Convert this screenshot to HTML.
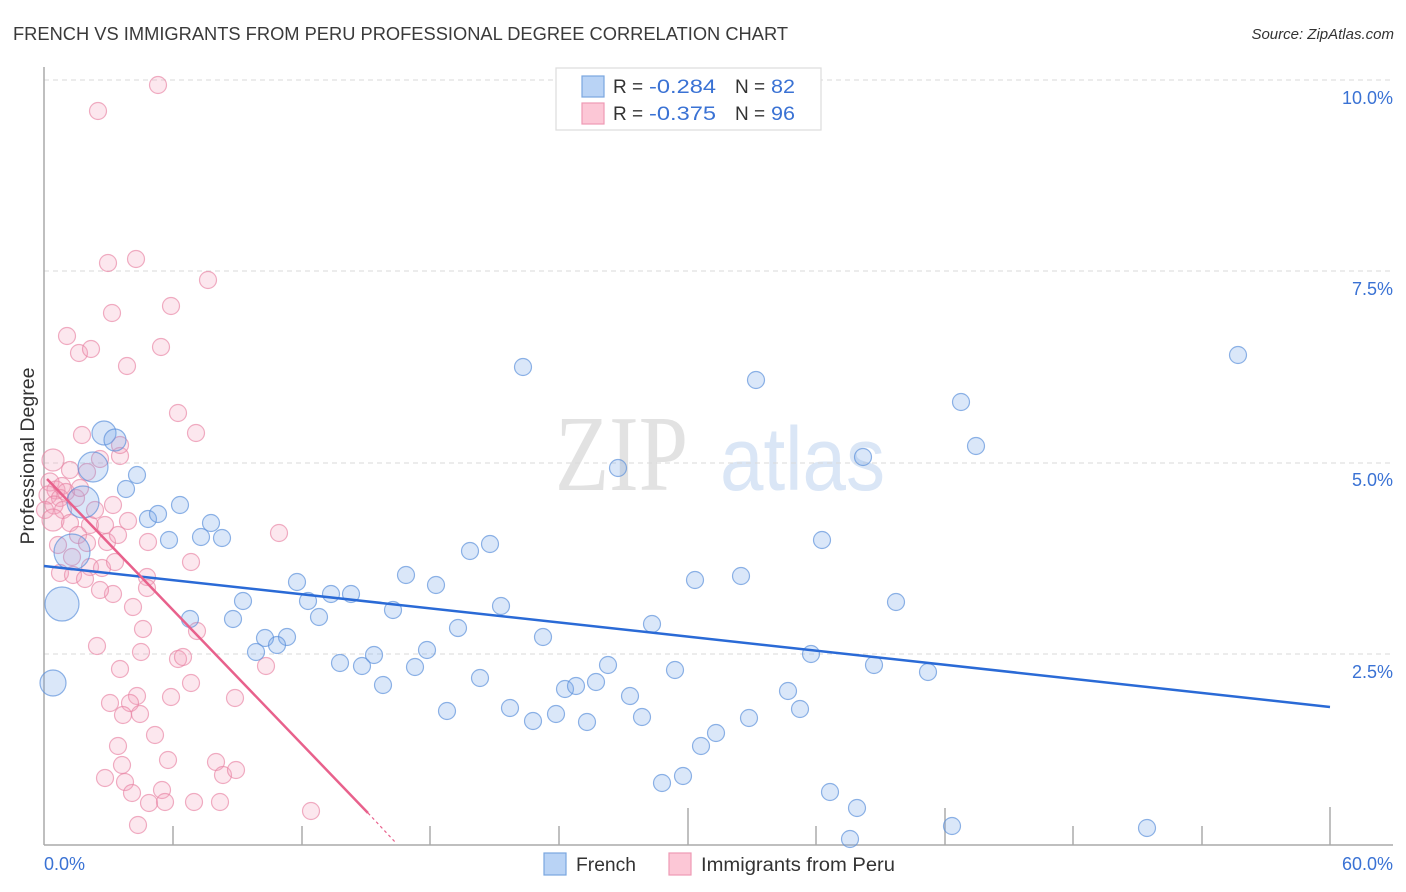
<!DOCTYPE html>
<html><head><meta charset="utf-8"><style>
html,body{margin:0;padding:0;background:#fff;}
svg{display:block;font-family:"Liberation Sans",sans-serif;}
</style></head><body>
<svg width="1406" height="892" viewBox="0 0 1406 892" xmlns="http://www.w3.org/2000/svg">
<rect width="1406" height="892" fill="#fff"/>
<text x="13" y="40" font-size="18" fill="#3a3a3a" textLength="775" lengthAdjust="spacingAndGlyphs">FRENCH VS IMMIGRANTS FROM PERU PROFESSIONAL DEGREE CORRELATION CHART</text>
<text x="1394" y="39" font-size="15" fill="#333" font-style="italic" text-anchor="end">Source: ZipAtlas.com</text>

<!-- watermark -->
<text x="555" y="490" font-family="Liberation Serif,serif" font-size="108" fill="#e2e2e2" textLength="133" lengthAdjust="spacingAndGlyphs">ZIP</text>
<text x="720" y="490" font-size="90" fill="#dae6f6" textLength="165" lengthAdjust="spacingAndGlyphs">atlas</text>

<!-- gridlines -->
<g stroke="#dadada" stroke-width="1" stroke-dasharray="5,4">
<line x1="44" y1="80" x2="1393" y2="80"/>
<line x1="44" y1="271" x2="1393" y2="271"/>
<line x1="44" y1="463" x2="1393" y2="463"/>
<line x1="44" y1="654" x2="1393" y2="654"/>
</g>
<!-- axes -->
<g stroke="#aaa" stroke-width="1.5">
<line x1="44" y1="67" x2="44" y2="845"/>
<line x1="44" y1="845" x2="1393" y2="845"/>
<line x1="173" y1="826" x2="173" y2="845"/>
<line x1="302" y1="826" x2="302" y2="845"/>
<line x1="430" y1="826" x2="430" y2="845"/>
<line x1="559" y1="826" x2="559" y2="845"/>
<line x1="688" y1="808" x2="688" y2="845"/>
<line x1="816" y1="826" x2="816" y2="845"/>
<line x1="945" y1="808" x2="945" y2="845"/>
<line x1="1073" y1="826" x2="1073" y2="845"/>
<line x1="1202" y1="826" x2="1202" y2="845"/>
<line x1="1330" y1="807" x2="1330" y2="845"/>
</g>

<!-- axis labels -->
<g font-size="18" fill="#3a72d4">
<text x="1393" y="104" text-anchor="end">10.0%</text>
<text x="1393" y="295" text-anchor="end">7.5%</text>
<text x="1393" y="486" text-anchor="end">5.0%</text>
<text x="1393" y="678" text-anchor="end">2.5%</text>
<text x="44" y="870">0.0%</text>
<text x="1393" y="870" text-anchor="end">60.0%</text>
</g>
<text transform="translate(34,456) rotate(-90)" font-size="19" fill="#333" text-anchor="middle" textLength="177" lengthAdjust="spacingAndGlyphs">Professional Degree</text>

<!-- pink points -->
<g fill="rgba(245,160,186,0.25)" stroke="rgba(232,130,163,0.65)" stroke-width="1.2">
<circle cx="158" cy="85" r="8.5"/><circle cx="98" cy="111" r="8.5"/>
<circle cx="108" cy="263" r="8.5"/><circle cx="136" cy="259" r="8.5"/><circle cx="208" cy="280" r="8.5"/>
<circle cx="171" cy="306" r="8.5"/><circle cx="112" cy="313" r="8.5"/><circle cx="67" cy="336" r="8.5"/>
<circle cx="79" cy="353" r="8.5"/><circle cx="91" cy="349" r="8.5"/><circle cx="161" cy="347" r="8.5"/>
<circle cx="127" cy="366" r="8.5"/><circle cx="178" cy="413" r="8.5"/><circle cx="196" cy="433" r="8.5"/>
<circle cx="82" cy="435" r="8.5"/><circle cx="53" cy="460" r="11"/><circle cx="70" cy="470" r="8.5"/>
<circle cx="100" cy="459" r="8.5"/><circle cx="120" cy="456" r="8.5"/><circle cx="87" cy="472" r="8.5"/>
<circle cx="50" cy="482" r="9"/><circle cx="56" cy="490" r="9"/><circle cx="62" cy="486" r="8.5"/>
<circle cx="48" cy="495" r="9"/><circle cx="60" cy="498" r="8.5"/><circle cx="66" cy="492" r="8.5"/>
<circle cx="54" cy="505" r="9"/><circle cx="45" cy="510" r="8.5"/><circle cx="63" cy="510" r="8.5"/>
<circle cx="76" cy="498" r="8.5"/><circle cx="53" cy="520" r="11"/><circle cx="70" cy="523" r="8.5"/>
<circle cx="90" cy="525" r="8.5"/><circle cx="105" cy="525" r="8.5"/><circle cx="128" cy="521" r="8.5"/>
<circle cx="78" cy="535" r="8.5"/><circle cx="107" cy="542" r="8.5"/><circle cx="118" cy="535" r="8.5"/>
<circle cx="148" cy="542" r="8.5"/><circle cx="87" cy="543" r="8.5"/><circle cx="72" cy="557" r="8.5"/>
<circle cx="90" cy="567" r="8.5"/><circle cx="60" cy="573" r="8.5"/><circle cx="73" cy="575" r="8.5"/>
<circle cx="85" cy="579" r="8.5"/><circle cx="102" cy="568" r="8.5"/><circle cx="115" cy="562" r="8.5"/>
<circle cx="147" cy="577" r="8.5"/><circle cx="147" cy="588" r="8.5"/><circle cx="113" cy="594" r="8.5"/>
<circle cx="191" cy="562" r="8.5"/><circle cx="133" cy="607" r="8.5"/><circle cx="279" cy="533" r="8.5"/>
<circle cx="97" cy="646" r="8.5"/><circle cx="143" cy="629" r="8.5"/><circle cx="141" cy="652" r="8.5"/>
<circle cx="178" cy="659" r="8.5"/><circle cx="183" cy="657" r="8.5"/><circle cx="120" cy="669" r="8.5"/>
<circle cx="197" cy="631" r="8.5"/><circle cx="191" cy="683" r="8.5"/><circle cx="266" cy="666" r="8.5"/>
<circle cx="235" cy="698" r="8.5"/><circle cx="171" cy="697" r="8.5"/><circle cx="137" cy="696" r="8.5"/>
<circle cx="130" cy="703" r="8.5"/><circle cx="110" cy="703" r="8.5"/><circle cx="123" cy="715" r="8.5"/>
<circle cx="140" cy="714" r="8.5"/><circle cx="155" cy="735" r="8.5"/><circle cx="118" cy="746" r="8.5"/>
<circle cx="168" cy="760" r="8.5"/><circle cx="122" cy="765" r="8.5"/><circle cx="216" cy="762" r="8.5"/>
<circle cx="223" cy="775" r="8.5"/><circle cx="236" cy="770" r="8.5"/><circle cx="105" cy="778" r="8.5"/>
<circle cx="125" cy="782" r="8.5"/><circle cx="132" cy="793" r="8.5"/><circle cx="162" cy="790" r="8.5"/>
<circle cx="149" cy="803" r="8.5"/><circle cx="165" cy="802" r="8.5"/><circle cx="194" cy="802" r="8.5"/>
<circle cx="220" cy="802" r="8.5"/><circle cx="311" cy="811" r="8.5"/><circle cx="138" cy="825" r="8.5"/>
<circle cx="120" cy="445" r="8.5"/><circle cx="95" cy="510" r="8.5"/><circle cx="80" cy="488" r="8.5"/>
<circle cx="113" cy="505" r="8.5"/><circle cx="58" cy="545" r="8.5"/><circle cx="100" cy="590" r="8.5"/>
</g>

<!-- blue points -->
<g fill="rgba(120,168,232,0.27)" stroke="rgba(90,143,218,0.68)" stroke-width="1.2">
<circle cx="62" cy="604" r="17"/><circle cx="53" cy="683" r="13"/><circle cx="72" cy="552" r="18"/>
<circle cx="83" cy="502" r="16"/><circle cx="93" cy="467" r="15"/><circle cx="104" cy="433" r="12"/>
<circle cx="115" cy="440" r="11"/>
<circle cx="137" cy="475" r="8.5"/><circle cx="126" cy="489" r="8.5"/><circle cx="180" cy="505" r="8.5"/>
<circle cx="148" cy="519" r="8.5"/><circle cx="158" cy="514" r="8.5"/><circle cx="169" cy="540" r="8.5"/>
<circle cx="201" cy="537" r="8.5"/><circle cx="211" cy="523" r="8.5"/><circle cx="222" cy="538" r="8.5"/>
<circle cx="190" cy="619" r="8.5"/><circle cx="243" cy="601" r="8.5"/><circle cx="233" cy="619" r="8.5"/>
<circle cx="297" cy="582" r="8.5"/><circle cx="308" cy="601" r="8.5"/><circle cx="331" cy="594" r="8.5"/>
<circle cx="351" cy="594" r="8.5"/><circle cx="319" cy="617" r="8.5"/><circle cx="265" cy="638" r="8.5"/>
<circle cx="287" cy="637" r="8.5"/><circle cx="277" cy="645" r="8.5"/><circle cx="256" cy="652" r="8.5"/>
<circle cx="406" cy="575" r="8.5"/><circle cx="436" cy="585" r="8.5"/><circle cx="393" cy="610" r="8.5"/>
<circle cx="470" cy="551" r="8.5"/><circle cx="490" cy="544" r="8.5"/><circle cx="501" cy="606" r="8.5"/>
<circle cx="458" cy="628" r="8.5"/><circle cx="340" cy="663" r="8.5"/><circle cx="362" cy="666" r="8.5"/>
<circle cx="374" cy="655" r="8.5"/><circle cx="415" cy="667" r="8.5"/><circle cx="427" cy="650" r="8.5"/>
<circle cx="383" cy="685" r="8.5"/><circle cx="543" cy="637" r="8.5"/><circle cx="480" cy="678" r="8.5"/>
<circle cx="447" cy="711" r="8.5"/><circle cx="510" cy="708" r="8.5"/><circle cx="533" cy="721" r="8.5"/>
<circle cx="556" cy="714" r="8.5"/><circle cx="565" cy="689" r="8.5"/><circle cx="576" cy="686" r="8.5"/>
<circle cx="596" cy="682" r="8.5"/><circle cx="608" cy="665" r="8.5"/><circle cx="587" cy="722" r="8.5"/>
<circle cx="630" cy="696" r="8.5"/><circle cx="642" cy="717" r="8.5"/><circle cx="652" cy="624" r="8.5"/>
<circle cx="675" cy="670" r="8.5"/><circle cx="695" cy="580" r="8.5"/><circle cx="701" cy="746" r="8.5"/>
<circle cx="662" cy="783" r="8.5"/><circle cx="683" cy="776" r="8.5"/><circle cx="716" cy="733" r="8.5"/>
<circle cx="618" cy="468" r="8.5"/><circle cx="523" cy="367" r="8.5"/><circle cx="756" cy="380" r="8.5"/>
<circle cx="741" cy="576" r="8.5"/><circle cx="749" cy="718" r="8.5"/><circle cx="788" cy="691" r="8.5"/>
<circle cx="800" cy="709" r="8.5"/><circle cx="811" cy="654" r="8.5"/><circle cx="822" cy="540" r="8.5"/>
<circle cx="830" cy="792" r="8.5"/><circle cx="857" cy="808" r="8.5"/><circle cx="850" cy="839" r="8.5"/>
<circle cx="863" cy="457" r="8.5"/><circle cx="874" cy="665" r="8.5"/><circle cx="896" cy="602" r="8.5"/>
<circle cx="928" cy="672" r="8.5"/><circle cx="961" cy="402" r="8.5"/><circle cx="976" cy="446" r="8.5"/>
<circle cx="952" cy="826" r="8.5"/><circle cx="1147" cy="828" r="8.5"/><circle cx="1238" cy="355" r="8.5"/>
</g>

<!-- regression lines -->
<line x1="44" y1="566" x2="1330" y2="707" stroke="#2a6ad6" stroke-width="2.5"/>
<line x1="47" y1="479" x2="368" y2="813" stroke="#e8618c" stroke-width="2.5"/>
<line x1="368" y1="813" x2="396" y2="843" stroke="#e8618c" stroke-width="1.2" stroke-dasharray="3,3"/>

<!-- top legend -->
<rect x="556" y="68" width="265" height="62" fill="#fff" stroke="#dcdcdc" stroke-width="1.2"/>
<rect x="582" y="76" width="22" height="21" fill="#b9d3f5" stroke="#7aa6e0" stroke-width="1.2"/>
<rect x="582" y="103" width="22" height="21" fill="#fcc7d6" stroke="#ee9ab5" stroke-width="1.2"/>
<g font-size="19">
<text x="613" y="93" fill="#333">R =</text><text x="649" y="93" fill="#3a72d4" textLength="67" lengthAdjust="spacingAndGlyphs">-0.284</text>
<text x="735" y="93" fill="#333">N =</text><text x="771" y="93" fill="#3a72d4" textLength="24" lengthAdjust="spacingAndGlyphs">82</text>
<text x="613" y="120" fill="#333">R =</text><text x="649" y="120" fill="#3a72d4" textLength="67" lengthAdjust="spacingAndGlyphs">-0.375</text>
<text x="735" y="120" fill="#333">N =</text><text x="771" y="120" fill="#3a72d4" textLength="24" lengthAdjust="spacingAndGlyphs">96</text>
</g>

<!-- bottom legend -->
<rect x="544" y="853" width="22" height="22" fill="#b9d3f5" stroke="#7aa6e0" stroke-width="1.2"/>
<text x="576" y="871" font-size="19" fill="#333" textLength="60" lengthAdjust="spacingAndGlyphs">French</text>
<rect x="669" y="853" width="22" height="22" fill="#fcc7d6" stroke="#ee9ab5" stroke-width="1.2"/>
<text x="701" y="871" font-size="19" fill="#333" textLength="194" lengthAdjust="spacingAndGlyphs">Immigrants from Peru</text>
</svg>
</body></html>
